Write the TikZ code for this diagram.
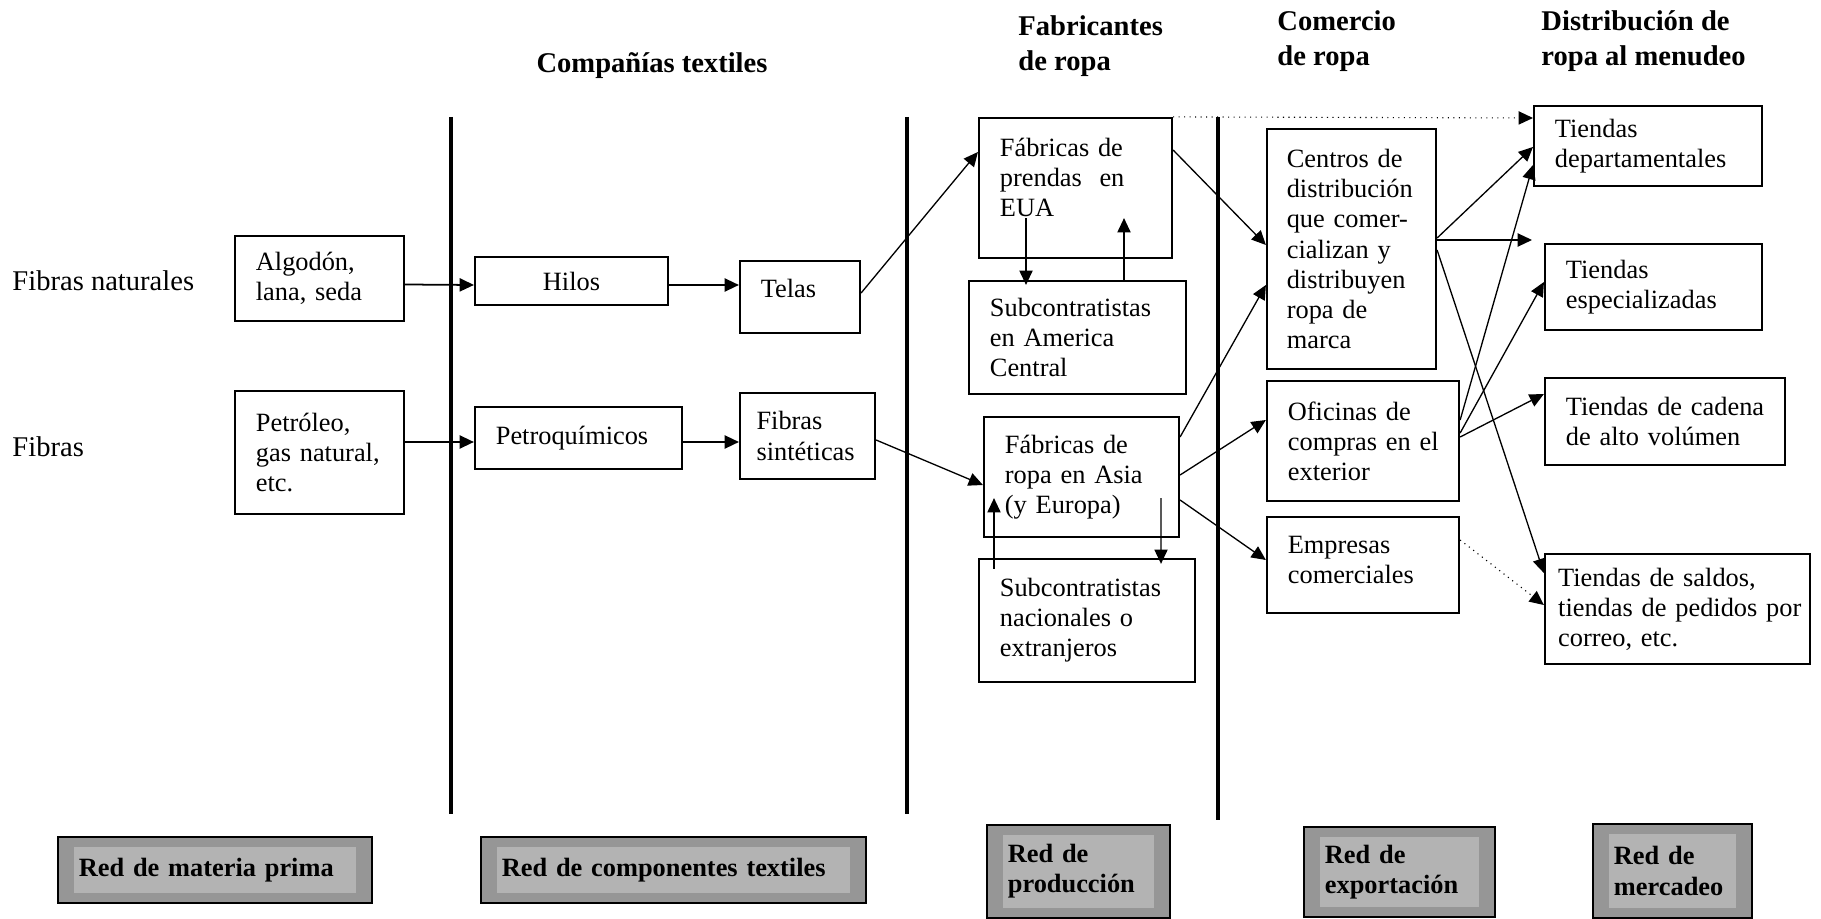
\documentclass[tikz,border=0pt]{standalone}
\usepackage{fontspec}
\setmainfont{Liberation Serif}
\usetikzlibrary{arrows.meta}

\definecolor{bandgray}{RGB}{150,150,150}
\definecolor{fillgray}{RGB}{179,179,179}

\begin{document}
\begin{tikzpicture}[
  x=0.455pt, y=-0.455pt,
  box/.style={rectangle, draw, line width=1pt, align=left, inner xsep=9.5pt, inner ysep=2pt,
    font=\fontsize{12}{13.7}\selectfont},
  netbox/.style={rectangle, draw, line width=1pt, fill=bandgray, align=left, inner xsep=9.5pt,
    inner ysep=2pt, font=\fontsize{12}{13.7}\selectfont\bfseries,
    path picture={\fill[fillgray] ([shift={(16,10)}]path picture bounding box.north west)
      rectangle ([shift={(-16,-10)}]path picture bounding box.south east);}},
  head/.style={inner sep=0pt, align=left, font=\fontsize{13}{16}\selectfont\bfseries},
  side/.style={inner sep=0pt, font=\fontsize{13}{15}\selectfont},
  arr/.style={-{Triangle[length=6.5pt,width=6pt]}, line width=0.6pt},
  sep/.style={line width=1.4pt}
]
\useasboundingbox (0,0) rectangle (1821,919);

% Headings
\node[head] (textiles) at (652,66) {Compañías textiles};
\node[head, anchor=west] (fabricantes) at (1018,46) {Fabricantes\\de ropa};
\node[head, anchor=west] (comercio) at (1277,41) {Comercio\\de ropa};
\node[head, anchor=west] (menudeo) at (1541,41) {Distribución de\\ropa al menudeo};

% Separators
\draw[sep] (451,117) -- (451,814);
\draw[sep] (907,117) -- (907,814);
\draw[sep] (1218,117) -- (1218,820);

% Raw material
\node[side, anchor=west] (naturales) at (12,281) {Fibras naturales};
\node[side, anchor=west] (fibras) at (12,447) {Fibras};
\node[box, text width=57.9pt, minimum height=38.7pt] (algodon) at (319.5,278.5) {Algodón,\\lana, seda};
\node[box, text width=57.9pt, minimum height=56pt] (petroleo) at (319.5,452.5) {Petróleo,\\gas natural,\\etc.};

% Textile components
\node[box, align=center, text width=68.8pt, minimum height=21.8pt] (hilos) at (571.5,281) {Hilos};
\node[box, text width=75.2pt, minimum height=28.2pt] (petroq) at (578.5,438) {Petroquímicos};
\node[box, text width=35.6pt, minimum height=32.8pt] (telas) at (800,297) {Telas\\[-5.5pt]\mbox{}};
\node[box, inner xsep=7.5pt, text width=46.4pt, minimum height=39.1pt] (sinteticas) at (807.5,436) {Fibras\\sintéticas};

% Production
\node[box, text width=68.8pt, minimum height=63.7pt] (eua) at (1075.5,188) {Fábricas de\\prendas~ en\\EUA\\[-4pt]\mbox{}};
\node[box, text width=79.7pt, minimum height=51.4pt] (america) at (1077.5,337.5) {Subcontratistas\\en America\\Central};
\node[box, text width=69.7pt, minimum height=54.6pt] (asia) at (1081.5,477) {Fábricas de\\ropa en Asia\\(y Europa)};
\node[box, text width=79.3pt, minimum height=56pt] (nacional) at (1087,620.5) {Subcontratistas\\nacionales o\\extranjeros};

% Export
\node[box, inner xsep=9pt, text width=58.9pt, minimum height=109.2pt] (centros) at (1351.5,249) {Centros de\\\mbox{distribución}\\que comer-\\cializan y\\distribuyen\\ropa de\\marca};
\node[box, text width=68.4pt, minimum height=54.6pt] (oficinas) at (1363,441) {Oficinas de\\\mbox{compras en el}\\exterior};
\node[box, text width=68.4pt, minimum height=43.7pt] (empresas) at (1363,565) {Empresas\\comerciales\\[-9pt]\mbox{}};

% Retail
\node[box, text width=84.7pt, minimum height=36.4pt] (departamental) at (1648,146) {Tiendas\\departamentales};
\node[box, text width=79.7pt, minimum height=39.1pt] (especial) at (1653.5,287) {Tiendas\\especializadas};
\node[box, text width=90.2pt, minimum height=39.6pt] (cadena) at (1665,421.5) {\mbox{Tiendas de cadena}\\de alto volúmen};
\node[box, inner xsep=6pt, text width=108.6pt, minimum height=50pt] (saldos) at (1677.5,609) {Tiendas de saldos,\\\mbox{tiendas de pedidos por}\\correo, etc.};
\coordinate (hueco) at (1532,240);

% Networks
\node[netbox, text width=123.9pt, minimum height=30pt] (materia) at (215,870) {Red de materia prima};
\node[netbox, text width=156.2pt, minimum height=30pt] (componentes) at (673.5,870) {Red de componentes textiles};
\node[netbox, text width=64.3pt, minimum height=42.3pt] (produccion) at (1078.5,871.5) {Red de\\producción};
\node[netbox, text width=67.9pt, minimum height=41pt] (exportacion) at (1399.5,872) {Red de\\exportación};
\node[netbox, text width=53.3pt, minimum height=42.8pt] (mercadeo) at (1672.5,871) {Red de\\mercadeo};

% Connections
\draw[arr,thick] ([shift={(0,6)}]algodon.east) -- ([shift={(0,4)}]hilos.west);
\draw[arr,thick] ([shift={(0,-10.5)}]petroleo.east) -- ([shift={(0,4)}]petroq.west);
\draw[arr,thick] ([shift={(0,4)}]hilos.east) -- ([shift={(0,-12)}]telas.west);
\draw[arr,thick] ([shift={(0,4)}]petroq.east) -- ([shift={(0,6)}]sinteticas.west);
\draw[arr] ([shift={(0,-4)}]telas.east) -- ([shift={(0,-36)}]eua.west);
\draw[arr] ([shift={(0,4)}]sinteticas.east) -- ([shift={(0,8)}]asia.west);
\draw[arr] ([shift={(-49.5,-41)}]eua.south) -- ([shift={(-51.5,5)}]america.north);
\draw[arr] ([shift={(46.5,0)}]america.north) -- ([shift={(48.5,-41)}]eua.south);
\draw[arr] ([shift={(-93,11)}]nacional.north) -- ([shift={(-87.5,-40)}]asia.south);
\draw[arr] ([shift={(79.5,-40)}]asia.south) -- ([shift={(74,6)}]nacional.north);
\draw[arr] ([shift={(0,-38)}]eua.east) -- ([shift={(0,-4)}]centros.west);
\draw[arr] ([shift={(0,-40)}]asia.east) -- ([shift={(0,36)}]centros.west);
\draw[arr] ([shift={(0,-2)}]asia.east) -- ([shift={(0,-21)}]oficinas.west);
\draw[arr] ([shift={(0,23)}]asia.east) -- ([shift={(0,-5)}]empresas.west);
\draw[arr, line width=0.5pt, dotted] (eua.north east) -- ([shift={(0,-28)}]departamental.west);
\draw[arr] ([shift={(0,-11)}]centros.east) -- ([shift={(0,1)}]departamental.west);
\draw[arr] ([shift={(0,-9)}]centros.east) -- (hueco);
\draw[arr] ([shift={(0,1)}]centros.east) -- ([shift={(0,-36)}]saldos.west);
\draw[arr] ([shift={(0,-21)}]oficinas.east) -- ([shift={(0,19)}]departamental.west);
\draw[arr] ([shift={(0,-8)}]oficinas.east) -- ([shift={(0,-5)}]especial.west);
\draw[arr] ([shift={(0,-4)}]oficinas.east) -- ([shift={(0,-27.5)}]cadena.west);
\draw[arr, line width=0.5pt, dotted] ([shift={(0,-25)}]empresas.east) -- ([shift={(0,-4)}]saldos.west);
\end{tikzpicture}
\end{document}
